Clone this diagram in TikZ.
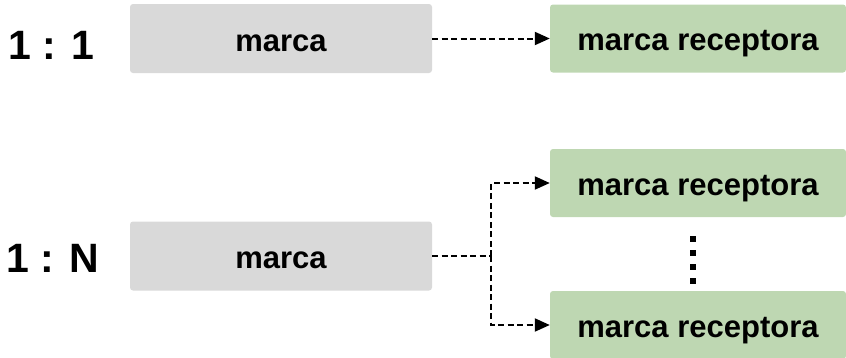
\documentclass[tikz,border=0pt]{standalone}
\usepackage{fontspec}
\setmainfont{Liberation Sans}
\usepackage{xcolor}
\usepackage{tikz}
\usetikzlibrary{positioning}
\usetikzlibrary{arrows.meta}
\usetikzlibrary{calc}
\definecolor{boxgray}{RGB}{217,217,217}
\definecolor{boxgreen}{RGB}{190,215,178}
\tikzstyle{srcbox}=[rectangle,rounded corners=3pt,fill=boxgray,minimum width=302pt,minimum height=69pt,inner sep=0pt,text height=25pt,text depth=0pt,font=\fontsize{31}{36}\selectfont\bfseries]
\tikzstyle{rcvbox}=[rectangle,rounded corners=3pt,fill=boxgreen,minimum width=296pt,minimum height=68pt,inner sep=0pt,text height=24pt,text depth=0pt,font=\fontsize{31}{36}\selectfont\bfseries]
\tikzstyle{ratio}=[font=\fontsize{41}{48}\selectfont\bfseries]
\tikzstyle{link} = [draw,line width=2pt,dash pattern=on 6pt off 3.5pt,-{Triangle[length=15pt,width=13pt]}]
\tikzstyle{plainlink} = [draw,line width=2pt,dash pattern=on 6pt off 3.5pt]

\begin{document}
\begin{tikzpicture}[x=1pt,y=-1pt]

  \useasboundingbox (0,0) rectangle (846,357);

  % 1 : 1
  \node[ratio] (one) at (51,45) {1 : 1};
  \node[srcbox] (m1) at (281,38.5) {marca};
  \node[rcvbox] (r1) at (698,38.5) {marca receptora};
  \path[link] (m1) -- (r1);

  % 1 : N
  \node[ratio] (many) at (53,258) {1 : N};
  \node[srcbox] (m2) at (281,256) {marca};
  \node[rcvbox] (r2a) at (698,183) {marca receptora};
  \node[rcvbox] (r2b) at (698,325) {marca receptora};
  \coordinate (split) at (491,256);

  \path[plainlink] (m2.east) -- (split);
  \path[link] (split) |- (r2a.west);
  \path[link] (split) |- (r2b.west);

  \foreach \y in {236,250,264,278}
         \fill (690,\y) rectangle +(6,6);

\end{tikzpicture}
\end{document}
